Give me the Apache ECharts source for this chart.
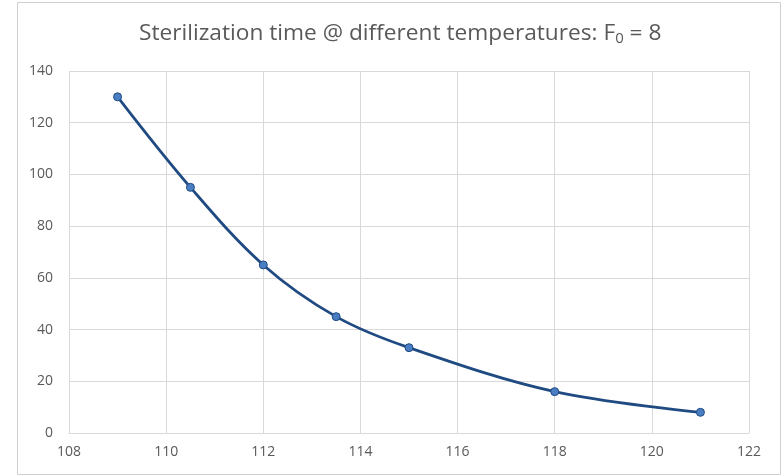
<!DOCTYPE html>
<html>
<head>
<meta charset="utf-8">
<script src="https://cdn.jsdelivr.net/npm/echarts@6/dist/echarts.min.js"></script>
<style>html,body{margin:0;padding:0;background:#fff;}#c{width:784px;height:476px;}</style>
</head>
<body>
<div id="c"></div>
<script>
var temperatures = [109, 110.5, 112, 113.5, 115, 118, 121];
var times = [130, 95, 65, 45, 33, 16, 8];
var xTicks = [108, 110, 112, 114, 116, 118, 120, 122];
var yTicks = [0, 20, 40, 60, 80, 100, 120, 140];

var chart = echarts.init(document.getElementById('c'));
var font = 'Open Sans';
chart.setOption({
  backgroundColor: '#fff',
  animation: false,
  graphic: [{
    type: 'rect', z: 100,
    shape: { x: 17.5, y: 2.5, width: 763, height: 472 },
    style: { fill: 'none', stroke: '#d0d0d0', lineWidth: 1 }, silent: true
  }],
  title: {
    text: '{t|Sterilization time @ different temperatures: F}{s|0}{t| = 8}',
    left: 134, top: 16,
    textStyle: {
      rich: {
        t: { fontFamily: font, fontSize: 22.7, color: '#595959', fontWeight: 'normal' },
        s: { fontFamily: font, fontSize: 15, color: '#595959', fontWeight: 'normal', padding: [10, 0, 0, 0] }
      }
    }
  },
  grid: { left: 69, right: 35, top: 71, bottom: 43 },
  xAxis: {
    type: 'value', min: xTicks[0], max: xTicks[xTicks.length - 1], interval: 2,
    axisLine: { lineStyle: { color: '#d9d9d9' } },
    axisTick: { show: false },
    axisLabel: { color: '#595959', fontFamily: font, fontSize: 14, margin: 12 },
    splitLine: { show: true, lineStyle: { color: '#d9d9d9' } }
  },
  yAxis: {
    type: 'value', min: yTicks[0], max: yTicks[yTicks.length - 1], interval: 20,
    axisLine: { show: false },
    axisTick: { show: false },
    axisLabel: { color: '#595959', fontFamily: font, fontSize: 14, margin: 16 },
    splitLine: { show: true, lineStyle: { color: '#d9d9d9' } }
  },
  series: [{
    type: 'line',
    data: temperatures.map(function (t, i) { return [t, times[i]]; }),
    smooth: 0.35,
    symbol: 'circle', symbolSize: 8,
    lineStyle: { color: '#1f4a82', width: 2.75 },
    itemStyle: { color: '#4a7ec2', borderColor: '#1f4a82', borderWidth: 1 }
  }]
});
</script>
</body>
</html>
